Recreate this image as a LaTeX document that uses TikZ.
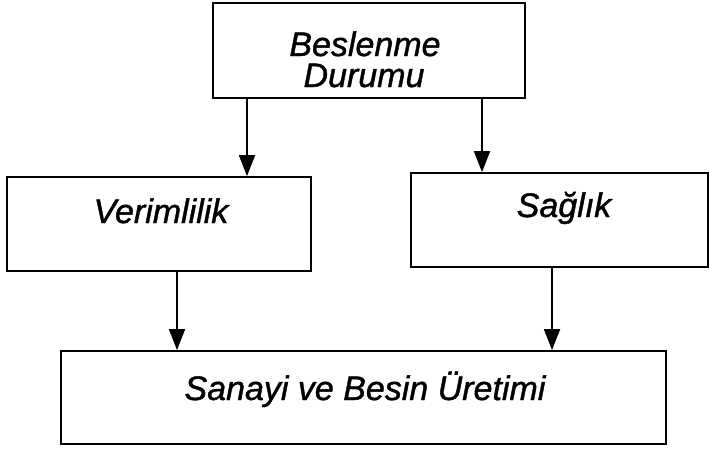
\documentclass[tikz,border=0pt]{standalone}
\usepackage{fontspec}
\setmainfont[ItalicFeatures={FakeBold=1.2}]{Liberation Sans}
\usetikzlibrary{arrows.meta}
\begin{document}
\begin{tikzpicture}[x=1pt,y=-1pt,
  box/.style={draw, line width=1.8pt, rectangle, inner sep=0pt},
  lbl/.style={anchor=base, inner sep=0pt, font=\itshape\fontsize{34}{40}\selectfont},
  arr/.style={line width=1.8pt, -{Triangle[width=16pt,length=21pt]}}]
\useasboundingbox (0,0) rectangle (709,450);
% boxes
\node[box, minimum width=312pt, minimum height=95pt] (top) at (369,50.5) {};
\node[box, minimum width=304pt, minimum height=94pt] (left) at (159,224) {};
\node[box, minimum width=297pt, minimum height=94pt] (right) at (559.5,220) {};
\node[box, minimum width=605pt, minimum height=93pt] (bottom) at (363.5,397.5) {};
% labels
\node[lbl] (t1) at (365,56) {Beslenme};
\node[lbl] (t2) at (364,87) {Durumu};
\node[lbl] (t3) at (161,223) {Verimlilik};
\node[lbl] (t4) at (564,217) {Sağlık};
\node[lbl] (t5) at (365,400) {Sanayi ve Besin Üretimi};
% arrow x positions
\coordinate (xa) at (247,0);
\coordinate (xb) at (482,0);
\coordinate (xc) at (177,0);
\coordinate (xd) at (552,0);
% connectors
\draw[arr] (top.south -| xa) -- (left.north -| xa);
\draw[arr] (top.south -| xb) -- (right.north -| xb);
\draw[arr] (left.south -| xc) -- (bottom.north -| xc);
\draw[arr] (right.south -| xd) -- (bottom.north -| xd);
\end{tikzpicture}
\end{document}
